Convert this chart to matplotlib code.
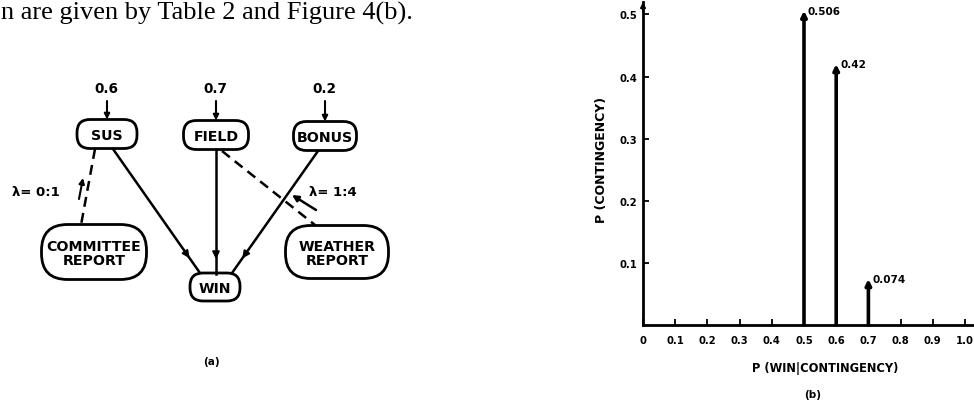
# Figure 4: (a) the SUS/FIELD/BONUS network, (b) distribution of P(WIN | contingency)

import matplotlib
matplotlib.use('Agg')
import matplotlib.pyplot as plt
from matplotlib.patches import FancyBboxPatch

# data for panel (a)
node_names = ['SUS', 'FIELD', 'BONUS', 'COMMITTEE\nREPORT', 'WEATHER\nREPORT', 'WIN']
priors = ['0.6', '0.7', '0.2']
lambda_labels = ['λ= 0:1', 'λ= 1:4']

# data for panel (b)
win_probs = [0.5, 0.6, 0.7]
contingency_probs = [0.506, 0.42, 0.074]
prob_labels = ['0.506', '0.42', '0.074']
x_ticks = [0, 0.1, 0.2, 0.3, 0.4, 0.5, 0.6, 0.7, 0.8, 0.9, 1.0]
x_tick_labels = ['0', '0.1', '0.2', '0.3', '0.4', '0.5', '0.6', '0.7', '0.8', '0.9', '1.0']
y_ticks = [0.1, 0.2, 0.3, 0.4, 0.5]
y_tick_labels = ['0.1', '0.2', '0.3', '0.4', '0.5']

plt.rcParams['font.family'] = ['DejaVu Sans']
plt.rcParams['font.weight'] = 'bold'

fig = plt.figure(figsize=(9.74, 4.02), dpi=100)

# pixel-coordinate overlay for the diagram and the page text
ov = fig.add_axes([0, 0, 1, 1])
ov.set_xlim(0, 974)
ov.set_ylim(402, 0)
ov.axis('off')

ov.text(1, 20, 'n are given by Table 2 and Figure 4(b).', family='Liberation Serif',
        fontweight='normal', fontsize=19, ha='left', va='baseline')

# node layout (centre x, centre y, width, height)
boxes = [(107, 135, 60, 29), (216, 136, 65, 29), (325, 137, 63, 29),
         (94, 253, 105, 55), (337, 253, 103, 53), (215, 288, 50, 28)]
for name, (cx, cy, w, h) in zip(node_names, boxes):
    ov.add_patch(FancyBboxPatch((cx - w / 2, cy - h / 2), w, h,
                                boxstyle='round,pad=0,rounding_size=%d' % (h * 0.48),
                                fc='white', ec='black', lw=2))
    ov.text(cx, cy + 1, name, ha='center', va='center', fontsize=10.2,
            fontweight='bold', linespacing=1.0)

# prior values with short arrows into the top nodes
for p, (cx, cy, w, h) in zip(priors, boxes[:3]):
    ov.text(cx - 1, 89, p, ha='center', va='center', fontsize=9.8, fontweight='bold')
    ov.annotate('', xy=(cx, cy - h / 2), xytext=(cx, 102),
                arrowprops=dict(arrowstyle='-|>', lw=1.5, color='black',
                                mutation_scale=8, shrinkA=0, shrinkB=0))


def edge(x0, y0, x1, y1, frac=0.88):
    ov.plot([x0, x1], [y0, y1], color='black', lw=1.8)
    xa = x0 + (x1 - x0) * frac
    ya = y0 + (y1 - y0) * frac
    ov.annotate('', xy=(xa, ya), xytext=(x0 + (x1 - x0) * (frac - 0.05), y0 + (y1 - y0) * (frac - 0.05)),
                arrowprops=dict(arrowstyle='-|>', lw=1.5, color='black',
                                mutation_scale=10, shrinkA=0, shrinkB=0))


edge(113, 150, 200, 274)
edge(216, 151, 216, 275)
edge(318, 152, 232, 274)

# dashed evidence links with small lambda arrows
ov.plot([95, 81], [150, 226], color='black', lw=1.8, ls=(0, (4, 2.5)))
ov.annotate('', xy=(83, 179), xytext=(79, 200),
            arrowprops=dict(arrowstyle='-|>', lw=1.5, color='black',
                            mutation_scale=8, shrinkA=0, shrinkB=0))
ov.plot([222, 315], [152, 226], color='black', lw=1.8, ls=(0, (4, 2.5)))
ov.annotate('', xy=(292, 196), xytext=(316, 211),
            arrowprops=dict(arrowstyle='-|>', lw=1.8, color='black',
                            mutation_scale=9, shrinkA=0, shrinkB=0))
ov.text(36, 193, lambda_labels[0], ha='center', va='center', fontsize=9.5, fontweight='bold')
ov.text(333, 193, lambda_labels[1], ha='center', va='center', fontsize=9.5, fontweight='bold')

ov.text(211, 362, '(a)', ha='center', va='center', fontsize=7.5, fontweight='bold')
ov.text(813, 395, '(b)', ha='center', va='center', fontsize=7.5, fontweight='bold')

# panel (b)
ax = fig.add_axes([643 / 974, 76 / 402, 0.3405, 323 / 402])
ax.set_xlim(0, 1.03)
ax.set_ylim(0, 0.52)
ax.patch.set_alpha(0)
for side in ['top', 'right']:
    ax.spines[side].set_visible(False)
for side in ['left', 'bottom']:
    ax.spines[side].set_linewidth(2)

for x, p, lab in zip(win_probs, contingency_probs, prob_labels):
    ax.annotate('', xy=(x, p), xytext=(x, 0),
                arrowprops=dict(arrowstyle='-|>', lw=2.6, color='black',
                                mutation_scale=8, shrinkA=0, shrinkB=0))
    ax.text(x + 0.012, p, lab, ha='left', va='center', fontsize=7.5, fontweight='bold')

ax.annotate('', xy=(0, 1.0), xycoords='axes fraction', xytext=(0, 0.97),
            arrowprops=dict(arrowstyle='-|>', lw=1.5, color='black',
                            mutation_scale=7, shrinkA=0, shrinkB=0))

ax.set_xticks(x_ticks)
ax.set_xticklabels(x_tick_labels)
ax.set_yticks(y_ticks)
ax.set_yticklabels(y_tick_labels)
ax.tick_params(direction='in', length=4, width=1.3, labelsize=7.2)
ax.tick_params(axis='x', pad=7)
ax.tick_params(axis='y', pad=4)
for t in ax.get_xticklabels() + ax.get_yticklabels():
    t.set_fontweight('bold')

ax.set_xlabel('P (WIN|CONTINGENCY)', fontsize=8.3, fontweight='bold')
ax.set_ylabel('P (CONTINGENCY)', fontsize=9, fontweight='bold')
ax.xaxis.set_label_coords(0.549, -0.111)
ax.yaxis.set_label_coords(-0.105, 0.514)

fig.savefig('out.png', dpi=100)
